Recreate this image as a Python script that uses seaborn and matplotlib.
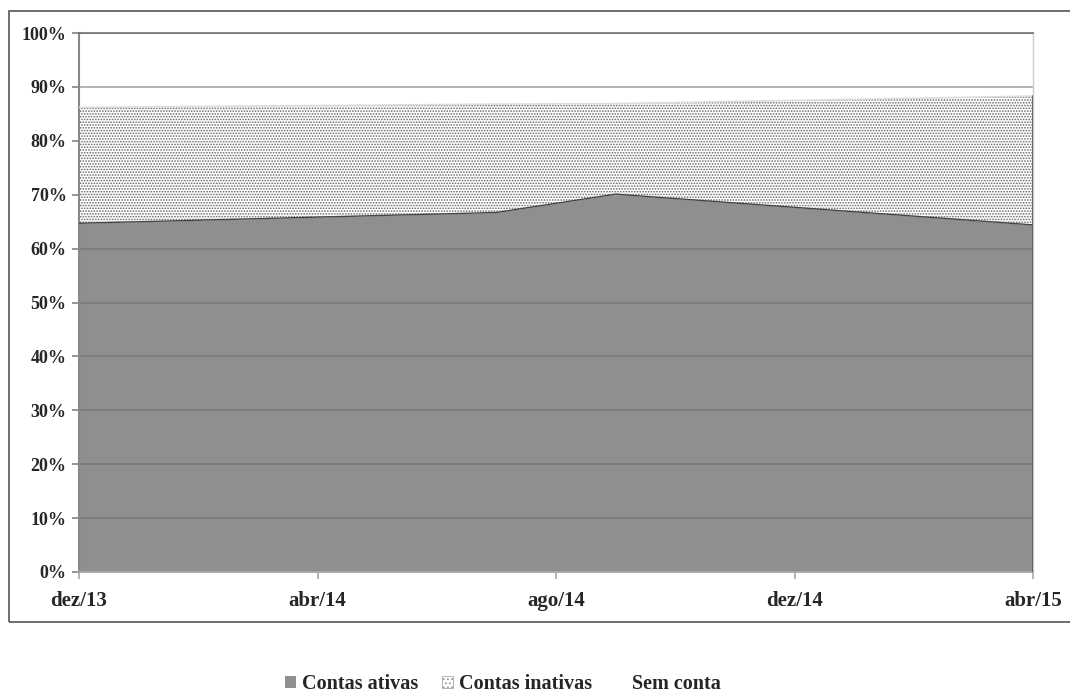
import matplotlib
matplotlib.use("Agg")
import matplotlib.pyplot as plt
import seaborn as sns
import pandas as pd
from matplotlib.patches import Rectangle, Patch

# Data (percent of population)
months = ["dez/13", "jul/14", "set/14", "abr/15"]
month_idx = [0, 7, 9, 16]          # months since dez/13
ativas = [64.7, 66.7, 70.1, 64.4]
inativas = [21.5, 20.1, 16.8, 23.9]
tick_pos = [0, 4, 8, 12, 16]
tick_labels = ["dez/13", "abr/14", "ago/14", "dez/14", "abr/15"]
legend_labels = ["Contas ativas", "Contas inativas", "Sem conta"]

df = pd.DataFrame({"m": month_idx, "ativas": ativas, "inativas": inativas})
df["top"] = df["ativas"] + df["inativas"]

sns.set_theme(style="white")
plt.rcParams["font.family"] = ["Liberation Serif", "DejaVu Serif"]
plt.rcParams["hatch.linewidth"] = 0.8
plt.rcParams["hatch.color"] = "#555555"

fig = plt.figure(figsize=(10.7, 6.95), dpi=100)
ax = fig.add_axes([79/1070, 1-572/695, (1033-79)/1070, (572-33)/695])

# Active accounts
ax.fill_between(df["m"], 0, df["ativas"], color="#8f8f8f", lw=0, zorder=1)
# gridlines
for y in range(10, 101, 10):
    ax.axhline(y, color="#7a7a7a" if y < 70 else "#a8a8a8", lw=1.2, zorder=1.5)
# Inactive accounts (hatched)
ax.fill_between(df["m"], df["ativas"], df["top"], facecolor="white",
                hatch="......", edgecolor="#666666", lw=0, zorder=2)
sns.lineplot(data=df, x="m", y="top", color="#dddddd", lw=1.2, ax=ax, zorder=3)
sns.lineplot(data=df, x="m", y="ativas", color="#444444", lw=1.0, ax=ax, zorder=3)
ax.plot([16, 16], [0, df["top"].iloc[-1]], color="#555555", lw=1.2, zorder=3)

ax.set_xlim(0, 16)
ax.set_ylim(0, 100)
ax.set_xticks(tick_pos)
ax.set_xticklabels(tick_labels)
ax.set_yticks(range(0, 101, 10))
ax.set_yticklabels([f"{v}%" for v in range(0, 101, 10)])
ax.set_xlabel("")
ax.set_ylabel("")
for lab in ax.get_xticklabels() + ax.get_yticklabels():
    lab.set_fontweight("bold")
ax.tick_params(axis="y", labelsize=13, length=5, color="#888888", left=True, pad=4)
ax.tick_params(axis="x", labelsize=15, length=5, color="#aaaaaa", bottom=True, pad=9)

ax.spines["left"].set_color("#888888")
ax.spines["left"].set_linewidth(1.5)
ax.spines["bottom"].set_color("#aaaaaa")
ax.spines["bottom"].set_linewidth(1.2)
ax.spines["top"].set_color("#707070")
ax.spines["top"].set_linewidth(1.2)
ax.spines["right"].set_color("#cccccc")
ax.spines["right"].set_linewidth(1.0)

# outer frame
fig.patches.append(Rectangle((9/1070, 1-622/695), 1.1, (622-11)/695,
                             transform=fig.transFigure, fill=False,
                             edgecolor="#555555", lw=1.2))

handles = [Patch(facecolor="#8f8f8f", edgecolor="none"),
           Patch(facecolor="white", edgecolor="#999999", hatch="....", lw=0.5),
           Patch(facecolor="white", edgecolor="none")]
fig.legend(handles, legend_labels, loc="center", bbox_to_anchor=(503/1070, 1-684/695),
           ncol=3, frameon=False, prop={"weight": "bold", "size": 14.5},
           handlelength=0.55, handleheight=0.55, handletextpad=0.3, columnspacing=1.15)

fig.savefig("out.png", dpi=100)
